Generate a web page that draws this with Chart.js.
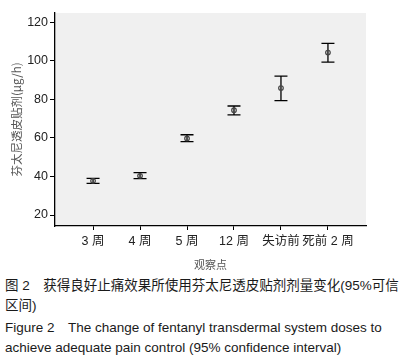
<!DOCTYPE html>
<html>
<head>
<meta charset="utf-8">
<script src="https://cdn.jsdelivr.net/npm/chart.js@4"></script>
<style>
  body { margin: 0; background: #fff; width: 420px; overflow: hidden; }
  #wrap { width: 420px; height: 275px; }
  .cap { font-family: "Liberation Sans", "Noto Sans CJK SC", sans-serif; font-size: 13.5px; color: #1a1a1a; margin-left: 5px; line-height: 20px; white-space: nowrap; }
</style>
</head>
<body>
<div id="wrap"><canvas id="myChart" width="420" height="275"></canvas></div>
<div class="cap" style="margin-top:1px">图 2　获得良好止痛效果所使用芬太尼透皮贴剂剂量变化(95%可信<br>区间)</div>
<div class="cap" style="margin-top:2px">Figure 2　The change of fentanyl transdermal system doses to<br>achieve adequate pain control (95% confidence interval)</div>
<script>
let categories = ["3 周", "4 周", "5 周", "12 周", "失访前", "死前 2 周"];
let means = [37.7, 40.3, 59.7, 74.3, 85.8, 104.2];
let lower = [36.4, 38.9, 58.0, 71.9, 79.3, 99.2];
let upper = [39.0, 42.0, 61.6, 76.5, 92.0, 109.0];
let yTicks = [20, 40, 60, 80, 100, 120];

let points = means.map((m, i) => ({ x: i, y: m }));

// grey panel behind plot + error bars
let errorBars = {
  id: "errorBars",
  beforeDraw(chart) {
    let a = chart.chartArea;
    let ctx = chart.ctx;
    ctx.save();
    ctx.fillStyle = "#f0f0f0";
    ctx.fillRect(a.left, a.top, a.right - a.left, a.bottom - a.top);
    ctx.restore();
  },
  beforeDatasetsDraw(chart) {
    let ctx = chart.ctx;
    let xs = chart.scales.x, ys = chart.scales.y;
    ctx.save();
    ctx.strokeStyle = "#000";
    ctx.lineWidth = 1.3;
    means.forEach((m, i) => {
      let x = xs.getPixelForValue(i);
      let yl = ys.getPixelForValue(lower[i]);
      let yu = ys.getPixelForValue(upper[i]);
      ctx.beginPath();
      ctx.moveTo(x, yl); ctx.lineTo(x, yu);
      ctx.moveTo(x - 6.5, yl); ctx.lineTo(x + 6.5, yl);
      ctx.moveTo(x - 6.5, yu); ctx.lineTo(x + 6.5, yu);
      ctx.stroke();
    });
    ctx.restore();
  }
};

let tickFont = { family: "'Liberation Sans', 'Noto Sans CJK SC', sans-serif", size: 12.5 };

new Chart(document.getElementById("myChart"), {
  type: "scatter",
  data: {
    datasets: [{
      data: points,
      pointStyle: "circle",
      pointRadius: 2.3,
      pointBorderWidth: 1.2,
      borderColor: "#444",
      backgroundColor: "rgba(0,0,0,0)",
    }],
  },
  options: {
    responsive: false,
    animation: false,
    layout: { padding: { left: 0, right: 54, top: 13, bottom: 0 } },
    plugins: { legend: { display: false }, tooltip: { enabled: false } },
    scales: {
      x: {
        type: "linear",
        min: -0.81,
        max: 5.81,
        afterBuildTicks: (s) => { s.ticks = categories.map((c, i) => ({ value: i })); },
        afterFit: (s) => { s.height = 49; },
        ticks: { callback: (v) => categories[v], color: "#222", font: tickFont, padding: 4, maxRotation: 0, autoSkip: false },
        grid: { drawOnChartArea: false, drawTicks: true, tickLength: 4, color: "#000" },
        border: { display: true, color: "#000", width: 1.3 },
        title: { display: true, text: "观察点", color: "#555", font: { family: "'Noto Sans CJK SC', sans-serif", size: 11 }, padding: { top: 5 } },
      },
      y: {
        min: 14.3,
        max: 124.7,
        afterBuildTicks: (s) => { s.ticks = yTicks.map((v) => ({ value: v })); },
        afterFit: (s) => { s.width = 55; },
        ticks: { color: "#222", font: tickFont, padding: 2 },
        grid: { drawOnChartArea: false, drawTicks: true, tickLength: 5, color: "#000" },
        border: { display: true, color: "#000", width: 1.3 },
        title: { display: true, text: "芬太尼透皮贴剂(μg/h)", color: "#555", font: { family: "'Noto Sans CJK SC', sans-serif", size: 11.5 }, padding: { top: 10, bottom: 2 } },
      },
    },
  },
  plugins: [errorBars],
});
</script>
</body>
</html>
